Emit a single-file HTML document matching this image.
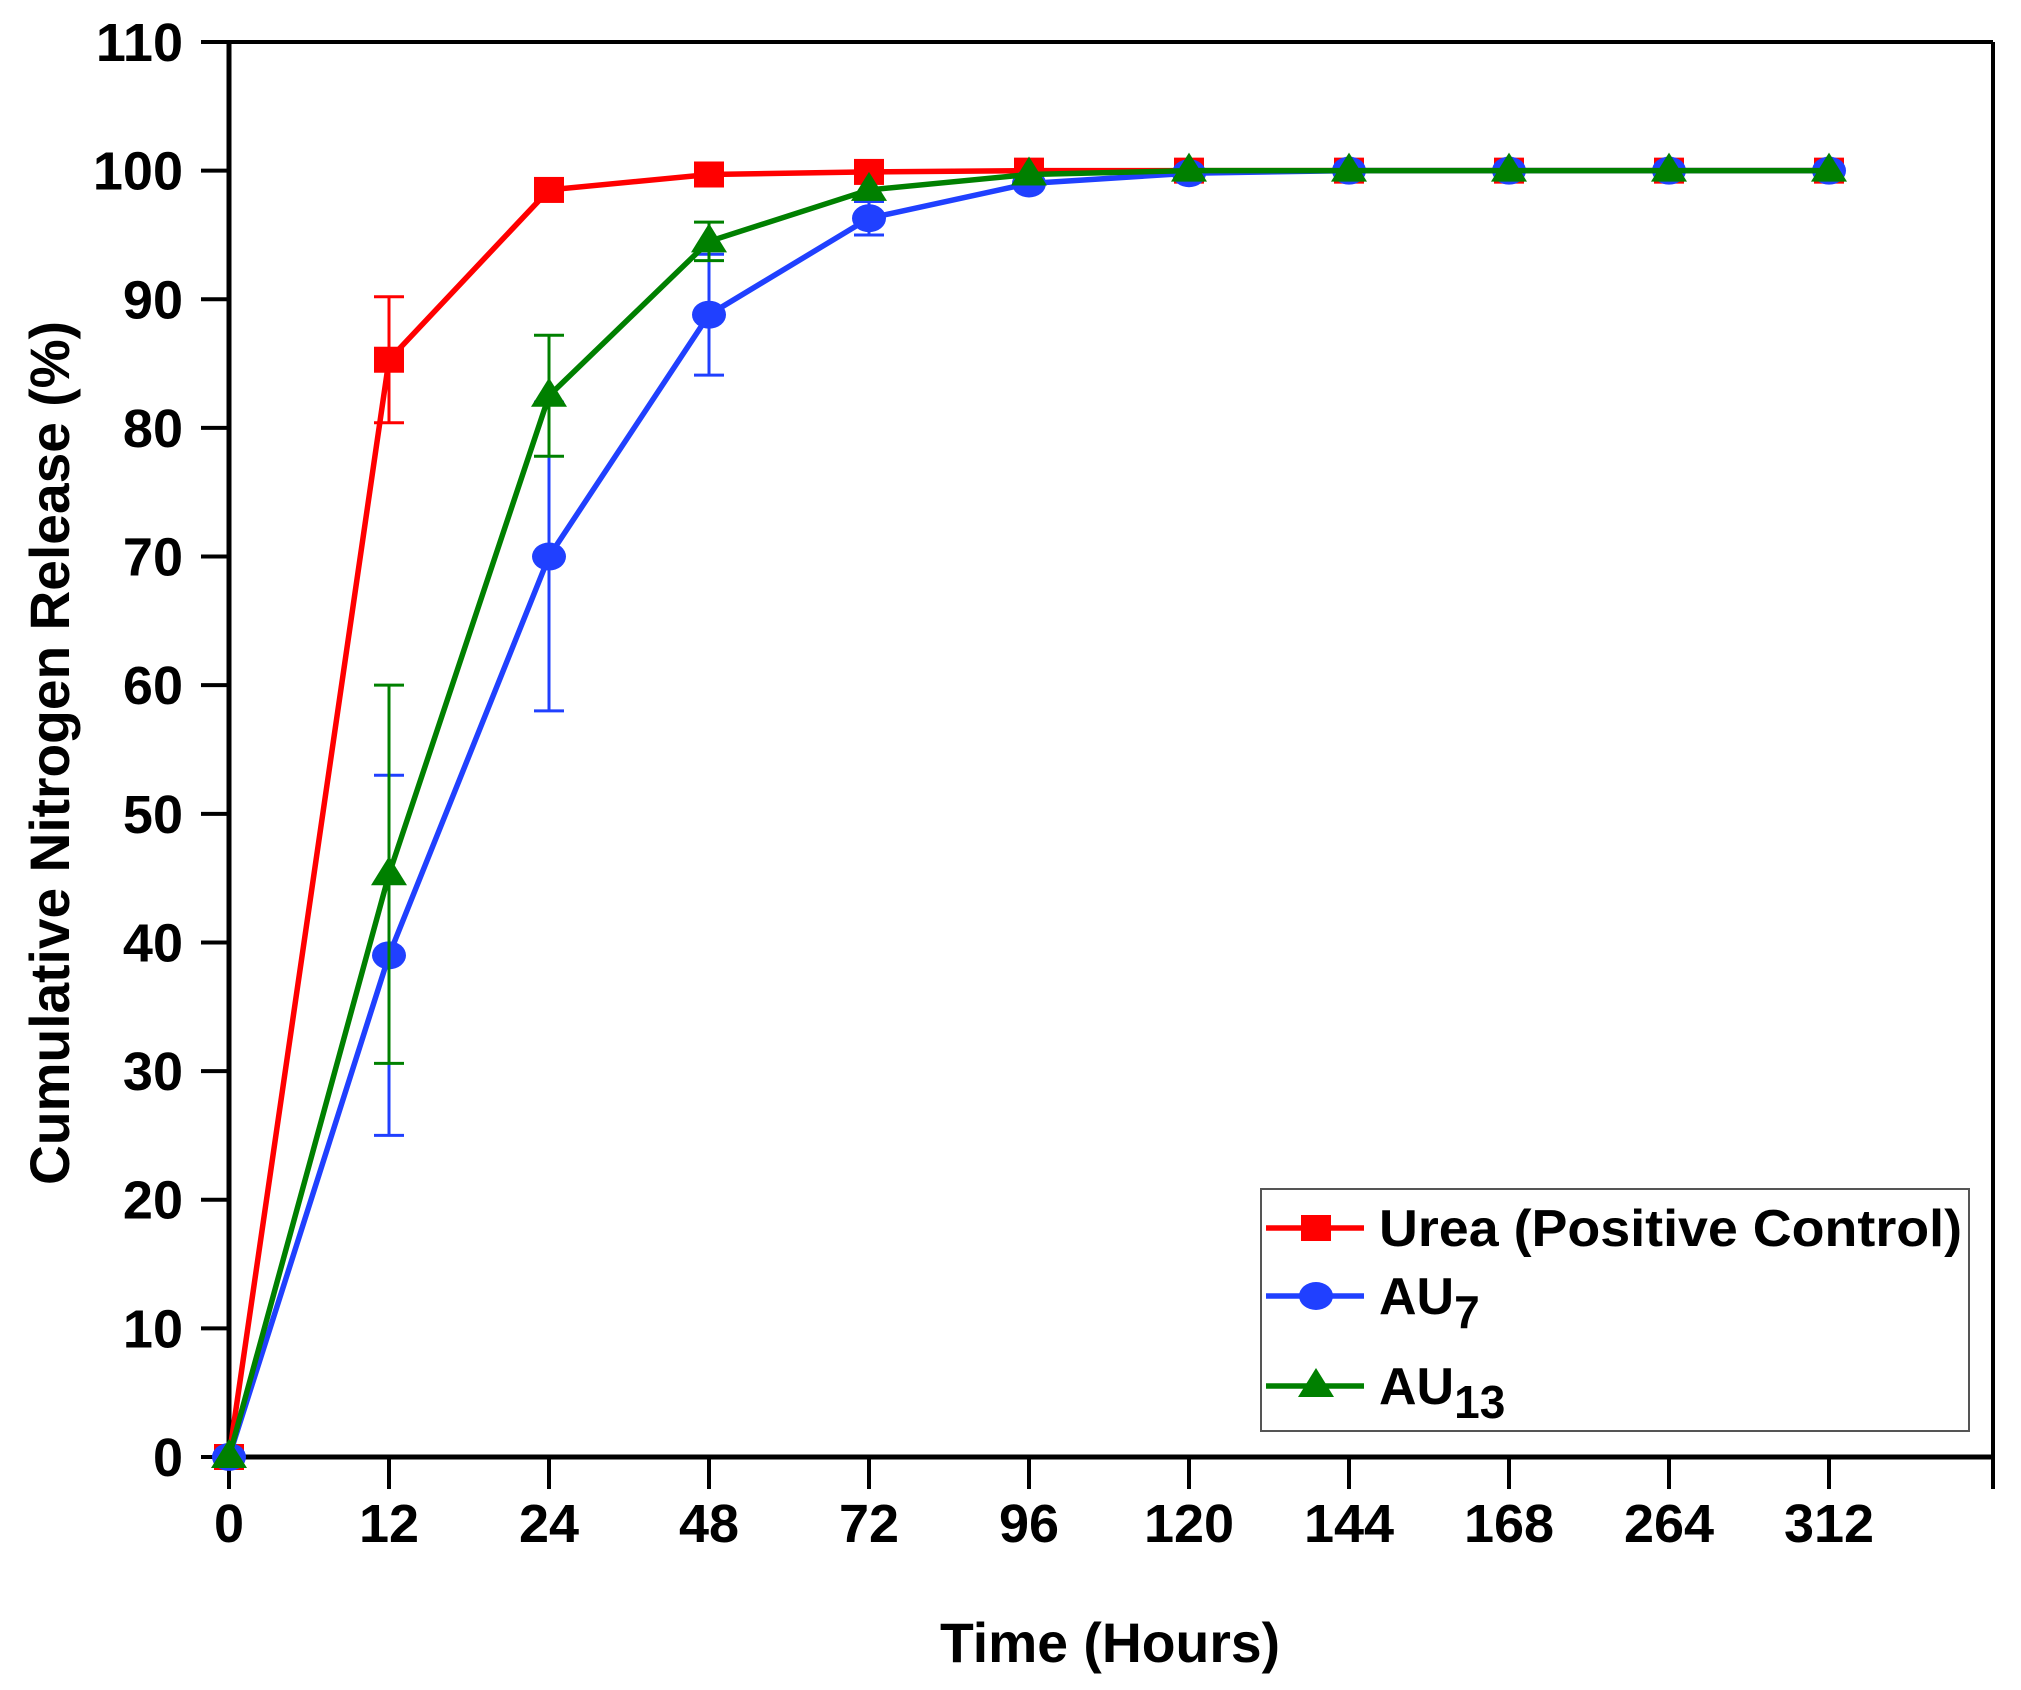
<!DOCTYPE html>
<html><head><meta charset="utf-8"><style>
html,body{margin:0;padding:0;background:#fff;}
svg{display:block;font-family:"Liberation Sans",Arial,sans-serif;font-weight:bold;}
</style></head><body>
<svg id="chart" width="2021" height="1690" viewBox="0 0 2021 1690" xmlns="http://www.w3.org/2000/svg">
<g id="axes"></g>
<g id="series"></g>
<g id="legend"></g>
</svg>
<script>
const categories = ["0","12","24","48","72","96","120","144","168","264","312"];
const yTicks = [0,10,20,30,40,50,60,70,80,90,100,110];
const ureaValues = [0,85.3,98.5,99.7,99.9,100,100,100,100,100,100];
const ureaErrors = [0,4.9,0,0,0,0,0,0,0,0,0];
const au7Values = [0,39,70,88.8,96.3,99,99.8,100,100,100,100];
const au7Errors = [0,14,12,4.7,1.3,0,0,0,0,0,0];
const au13Values = [0,45.3,82.5,94.5,98.5,99.7,100,100,100,100,100];
const au13Errors = [0,14.7,4.7,1.5,0,0,0,0,0,0,0];

const NS="http://www.w3.org/2000/svg";
const L=229,R=1993,T=42,B=1457,STEP=160;
const xPos=i=>L+STEP*i;
const yPos=v=>B-(v/110)*(B-T);
function mk(tag,attrs,parent){const e=document.createElementNS(NS,tag);for(const k in attrs)e.setAttribute(k,attrs[k]);parent.appendChild(e);return e;}
const axes=document.getElementById('axes');
let ax;
ax=mk('line',{x1:L,y1:B,x2:R,y2:B,stroke:'#000','stroke-width':5},axes);


ax=mk('line',{x1:L,y1:T,x2:L,y2:B,stroke:'#000','stroke-width':5},axes);


ax=mk('line',{x1:201,y1:T,x2:R,y2:T,stroke:'#000','stroke-width':4},axes);


ax=mk('line',{x1:R,y1:T,x2:R,y2:B+32,stroke:'#000','stroke-width':4},axes);


yTicks.forEach(v=>{
  const y=yPos(v);
  const t=mk('line',{x1:201,y1:y,x2:L,y2:y,stroke:'#000','stroke-width':4},axes);
  
  
  const tx=mk('text',{x:183,y:y+19,'text-anchor':'end','font-size':54,fill:'#000'},axes);
  tx.textContent=v;
  
  
});
categories.forEach((c,i)=>{
  const x=xPos(i);
  const t=mk('line',{x1:x,y1:B,x2:x,y2:B+32,stroke:'#000','stroke-width':4},axes);
  
  
  const tx=mk('text',{x:x,y:1542,'text-anchor':'middle','font-size':54,fill:'#000'},axes);
  tx.textContent=c;
  
  
});
let tt=mk('text',{x:1110,y:1662,'text-anchor':'middle','font-size':56,fill:'#000',textLength:340,lengthAdjust:'spacingAndGlyphs'},axes);
tt.textContent='Time (Hours)';


tt=mk('text',{x:0,y:0,'text-anchor':'middle','font-size':56,fill:'#000',textLength:864,lengthAdjust:'spacingAndGlyphs',transform:'translate(69,753) rotate(-90)'},axes);
tt.textContent='Cumulative Nitrogen Release (%)';



function marker(shape,cx,cy,color,parent){
  let m;
  if(shape==='square') m=mk('rect',{x:cx-15,y:cy-13,width:30,height:26,fill:color},parent);
  else if(shape==='circle') m=mk('ellipse',{cx:cx,cy:cy,rx:17,ry:14,fill:color},parent);
  else m=mk('polygon',{points:`${cx},${cy-18} ${cx-18},${cy+11} ${cx+18},${cy+11}`,fill:color},parent);
  return m;
}
const seriesG=document.getElementById('series');
function drawSeries(name,vals,errs,color,shape){
  const g=mk('g',{},seriesG);
  
  
  vals.forEach((v,i)=>{
    if(errs[i]>0){
      const x=xPos(i),y1=yPos(v+errs[i]),y2=yPos(v-errs[i]);
      const e=mk('path',{d:`M${x},${y1}V${y2}M${x-15},${y1}H${x+15}M${x-15},${y2}H${x+15}`,stroke:color,'stroke-width':3,fill:'none'},g);
      
      
    }
  });
  const p=mk('polyline',{points:vals.map((v,i)=>xPos(i)+','+yPos(v)).join(' '),stroke:color,'stroke-width':5.5,fill:'none'},g);
  
  
  vals.forEach((v,i)=>{
    const m=marker(shape,xPos(i),yPos(v),color,g);
    
    
  });
}
drawSeries('urea',ureaValues,ureaErrors,'#ff0000','square');
drawSeries('au7',au7Values,au7Errors,'#2040ff','circle');
drawSeries('au13',au13Values,au13Errors,'#008000','triangle');

const lg=document.getElementById('legend');
const box=mk('rect',{x:1261,y:1189,width:708,height:242,fill:'#fff',stroke:'#555','stroke-width':2},lg);


const entries=[['urea','#ff0000','square',1228],['au7','#2040ff','circle',1296],['au13','#008000','triangle',1386]];
entries.forEach(([n,c,s,y])=>{
  const l=mk('line',{x1:1266,y1:y,x2:1364,y2:y,stroke:c,'stroke-width':5.5},lg);
  
  
  const m=marker(s,1316,y,c,lg);
  
  
});
let t1=mk('text',{x:1379,y:1246,'font-size':52,fill:'#000',textLength:583,lengthAdjust:'spacingAndGlyphs'},lg);
t1.textContent='Urea (Positive Control)';


let t2=mk('text',{x:1379,y:1314,'font-size':52,fill:'#000'},lg);
t2.innerHTML='AU<tspan font-size="46" dy="14">7</tspan>';


let t3=mk('text',{x:1379,y:1404,'font-size':52,fill:'#000'},lg);
t3.innerHTML='AU<tspan font-size="46" dy="14">13</tspan>';


</script>
</body></html>
